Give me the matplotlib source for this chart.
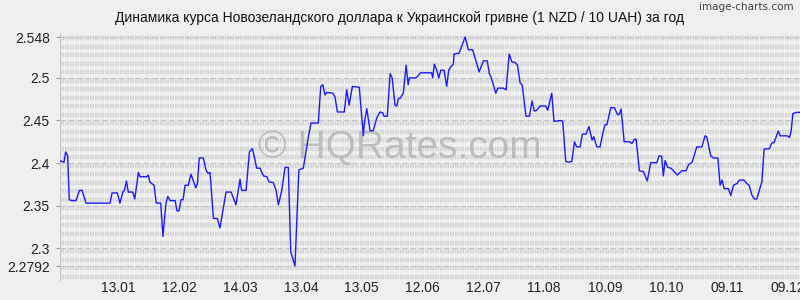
# NZD/UAH yearly rate chart (1 NZD / 10 UAH)
import matplotlib
matplotlib.use('Agg')
import matplotlib.pyplot as plt
import numpy as np

plt.rcParams['font.family'] = ['Liberation Sans', 'DejaVu Sans']
plt.rcParams['lines.scale_dashes'] = False

# day offsets from 15.12 and rate values
days = [0, 1.2, 2.2, 3.0, 4.0, 4.8, 6.0, 8.1, 9.8, 11.1, 13.1, 24.9, 25.9, 28.5, 29.8,
        31.2, 32.0, 33.0, 33.9, 36.1, 37.1, 38.9, 39.7, 43.0, 43.8, 44.5, 45.5, 46.6,
        47.7, 49.9, 51.0, 51.7, 52.5, 53.4, 54.5, 57.0, 57.9, 58.9, 59.9, 60.9, 61.9,
        63.5, 64.8, 66.0, 67.2, 68.0, 68.9, 70.9, 72.2, 73.2, 74.2, 75.9, 77.8, 79.1,
        82.1, 84.6, 87.0, 89.0, 89.8, 92.0, 93.6, 95.1, 95.9, 97.2, 98.9, 100.5, 102.2,
        103.3, 105.4, 106.8, 107.9, 109.6, 111.2, 112.8, 114.0, 116.1, 118.0, 120.2,
        121.6, 122.7, 124.0, 127.6, 128.8, 129.8, 130.9, 131.8, 134.7, 135.8, 137.0,
        140.4, 141.6, 142.8, 144.4, 147.8, 149.8, 150.3, 151.5, 153.1, 154.7, 156.4,
        158.0, 159.4, 160.0, 161.6, 163.0, 164.0, 165.4, 166.3, 167.1, 167.9, 169.5,
        170.9, 171.9, 172.5, 175.8, 178.1, 183.5, 184.0, 184.8, 186.0, 187.0, 188.0,
        189.6, 190.9, 191.9, 192.9, 194.2, 194.5, 197.0, 200.0, 201.6, 203.7, 206.9,
        209.0, 210.9, 211.9, 212.8, 215.1, 216.1, 218.8, 220.2, 221.7, 223.0, 224.6,
        225.8, 227.1, 228.1, 230.0, 231.7, 233.0, 234.1, 235.3, 236.9, 239.7, 240.7,
        242.7, 243.8, 247.1, 248.1, 249.6, 250.9, 252.6, 253.9, 255.0, 256.7, 257.8,
        259.6, 261.0, 262.6, 263.4, 264.9, 266.5, 267.9, 268.9, 269.9, 271.8, 273.6,
        275.1, 275.9, 276.9, 278.4, 281.0, 282.2, 283.5, 284.3, 285.9, 287.9, 289.8,
        291.5, 294.5, 295.6, 296.9, 297.7, 298.6, 299.9, 301.5, 302.7, 304.6, 306.8,
        308.9, 310.1, 311.9, 314.2, 316.7, 318.3, 319.1, 321.1, 322.4, 324.6, 325.7,
        326.7, 327.7, 329.8, 331.0, 332.3, 334.0, 335.2, 337.5, 338.9, 340.0, 341.3,
        342.5, 343.8, 346.3, 347.4, 350.0, 351.2, 352.3, 354.4, 355.3, 357.7, 358.9,
        359.9, 360.7, 361.6, 363.5, 365.1]
rate = [2.403, 2.402, 2.401, 2.413, 2.409, 2.357, 2.356, 2.356, 2.368, 2.368, 2.353,
        2.353, 2.365, 2.365, 2.353, 2.366, 2.368, 2.379, 2.366, 2.366, 2.358, 2.389,
        2.384, 2.384, 2.386, 2.378, 2.376, 2.374, 2.353, 2.353, 2.314, 2.333, 2.353,
        2.361, 2.356, 2.356, 2.344, 2.344, 2.357, 2.357, 2.374, 2.374, 2.387, 2.379,
        2.371, 2.376, 2.406, 2.406, 2.392, 2.388, 2.389, 2.335, 2.335, 2.324, 2.366,
        2.366, 2.351, 2.381, 2.368, 2.368, 2.413, 2.417, 2.409, 2.394, 2.394, 2.385,
        2.384, 2.378, 2.377, 2.368, 2.351, 2.368, 2.395, 2.395, 2.296, 2.2792, 2.392,
        2.394, 2.415, 2.431, 2.447, 2.447, 2.490, 2.492, 2.480, 2.483, 2.482, 2.478,
        2.460, 2.460, 2.486, 2.468, 2.490, 2.489, 2.432, 2.447, 2.464, 2.438, 2.438,
        2.453, 2.460, 2.459, 2.455, 2.455, 2.505, 2.500, 2.468, 2.467, 2.476, 2.476,
        2.482, 2.515, 2.492, 2.500, 2.500, 2.506, 2.506, 2.500, 2.516, 2.509, 2.500,
        2.509, 2.509, 2.490, 2.509, 2.513, 2.516, 2.528, 2.529, 2.548, 2.533, 2.533,
        2.507, 2.520, 2.520, 2.505, 2.501, 2.482, 2.488, 2.488, 2.486, 2.528, 2.519,
        2.518, 2.515, 2.494, 2.492, 2.455, 2.455, 2.473, 2.461, 2.462, 2.467, 2.467,
        2.462, 2.482, 2.449, 2.450, 2.449, 2.402, 2.401, 2.402, 2.425, 2.419, 2.419,
        2.434, 2.434, 2.443, 2.427, 2.431, 2.419, 2.419, 2.435, 2.445, 2.445, 2.465,
        2.465, 2.457, 2.457, 2.4635, 2.425, 2.425, 2.423, 2.428, 2.428, 2.391, 2.390,
        2.379, 2.4005, 2.4005, 2.4085, 2.408, 2.385, 2.403, 2.395, 2.394, 2.391, 2.386,
        2.391, 2.391, 2.398, 2.401, 2.419, 2.419, 2.432, 2.431, 2.4085, 2.406, 2.406,
        2.374, 2.380, 2.370, 2.370, 2.362, 2.374, 2.376, 2.380, 2.380, 2.376, 2.374,
        2.363, 2.358, 2.358, 2.378, 2.4165, 2.417, 2.4236, 2.424, 2.4377, 2.432, 2.432,
        2.432, 2.430, 2.437, 2.458, 2.4596, 2.4596]

tick_days = [29, 59, 89, 119, 149, 179, 209, 239, 269, 299, 329, 359]
tick_labels = ['13.01', '12.02', '14.03', '13.04', '13.05', '12.06',
               '12.07', '11.08', '10.09', '10.10', '09.11', '09.12']
y_ticks = [2.2792, 2.3, 2.35, 2.4, 2.45, 2.5, 2.548]
y_labels = ['2.2792', '2.3', '2.35', '2.4', '2.45', '2.5', '2.548']

bg = '#efefef'
fig = plt.figure(figsize=(8, 3), dpi=100, facecolor=bg)
ax = fig.add_axes([0.0744, 0.0667, 0.9256, 0.8233], facecolor=bg)
ax.set_xlim(0, 365.1)
ax.set_ylim(2.2628, 2.5527)

# textured rows of the background grid (short vertical strokes)
for v in np.arange(2.5468, 2.262, -0.01):
    ax.axhline(v, color='#d2d2d2', lw=3.2, dashes=(1.08, 0.72),
               dash_capstyle='butt', zorder=0.5)
# dashed lines at the y ticks
for v in y_ticks:
    ax.axhline(v, color='#c6c6c6', lw=0.8, dashes=(4, 2), zorder=0.6)

ax.text(0.5, 1 - 158 / 300, '\u00a9 HQRates.com', transform=fig.transFigure,
        ha='center', va='baseline', fontsize=28, color='#b0b0b0', alpha=0.75,
        zorder=1)

ax.plot(days, rate, color='#1a1aff', lw=1.0, zorder=3)

ax.set_yticks(y_ticks)
ax.set_yticklabels(y_labels)
ax.set_xticks(tick_days)
ax.set_xticklabels(tick_labels)
ax.tick_params(axis='y', length=3, width=0.8, color='#999999', pad=4,
               labelsize=10, labelcolor='#222222')
ax.tick_params(axis='x', length=0, pad=1, labelsize=10, labelcolor='#222222')
for s in ['top', 'right', 'bottom']:
    ax.spines[s].set_visible(False)
ax.spines['left'].set_color('#c4c4c4')
ax.spines['left'].set_linewidth(0.8)

fig.text(0.5, 1 - 18 / 300, 'Динамика курса Новозеландского доллара к Украинской гривне '
         '(1 NZD / 10 UAH) за год', ha='center', va='center', fontsize=10,
         color='#111111')
fig.text(0.9925, 1 - 7 / 300, 'image-charts.com', ha='right', va='center',
         fontsize=7.5, color='#444444',
         family=['Liberation Sans Narrow', 'DejaVu Sans'])

fig.savefig('out.png', dpi=100, facecolor=bg)
